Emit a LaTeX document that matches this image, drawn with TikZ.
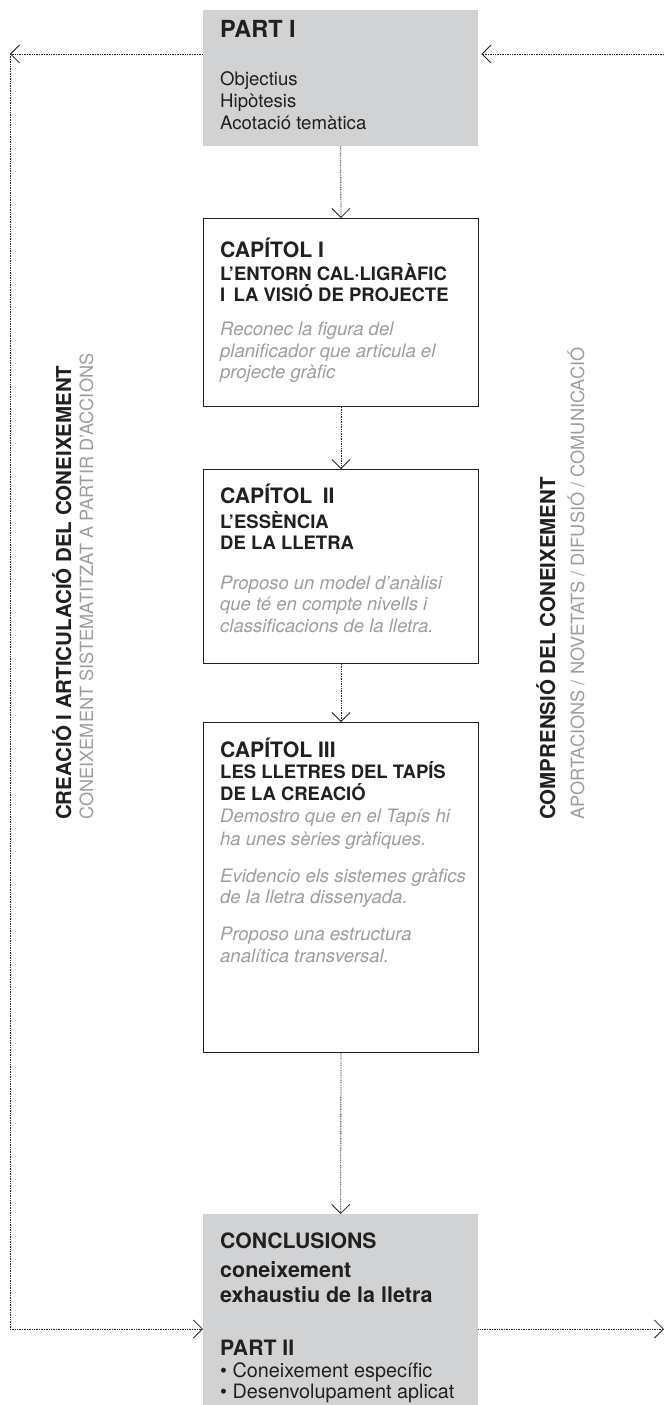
\documentclass[tikz,border=0pt]{standalone}
\usepackage{fontspec}
\setmainfont{TeX Gyre Heros}
\usetikzlibrary{arrows.meta}
\definecolor{boxgray}{HTML}{D1D2D4}
\definecolor{ink}{HTML}{231F20}
\definecolor{softgray}{HTML}{9D9D9D}
\tikzset{
  panel/.style={draw=ink, line width=1pt, inner sep=0pt, anchor=north west, minimum width=275pt},
  shaded/.style={fill=boxgray, draw=none, inner sep=0pt, anchor=north west, minimum width=275pt},
  txt/.style={anchor=base west, inner sep=0pt, text=ink},
  head/.style={txt, font=\bfseries\fontsize{21.2}{24}\selectfont},
  sub/.style={txt, font=\bfseries\fontsize{18.5}{21}\selectfont},
  note/.style={txt, text=softgray, font=\itshape\fontsize{18.5}{22}\selectfont},
  plain/.style={txt, font=\fontsize{18.6}{21}\selectfont},
  sidebold/.style={anchor=base west, inner sep=0pt, rotate=90, text=ink, font=\bfseries\fontsize{20.5}{23}\selectfont},
  sidelight/.style={anchor=base west, inner sep=0pt, rotate=90, text=softgray, font=\fontsize{18.2}{21}\selectfont},
  link/.style={draw=ink, line width=0.85pt, dash pattern=on 0.85pt off 0.85pt},
  tip/.style={-{Straight Barb[length=9pt,width=18pt,line width=0.8pt]}},
}
\begin{document}
\begin{tikzpicture}[x=1pt,y=-1pt]
\useasboundingbox (0,0) rectangle (664,1405);

% boxes
\node[shaded, minimum height=136pt] (part1) at (203,10) {};
\node[panel, minimum height=188pt] (cap1) at (203,218) {};
\node[panel, minimum height=194pt] (cap2) at (203,469) {};
\node[panel, minimum height=330pt] (cap3) at (203,722) {};
\node[shaded, minimum height=191pt] (concl) at (203,1214) {};

% PART I
\node[txt, font=\bfseries\fontsize{23.5}{27}\selectfont] (p1t) at (220,38) {PART I};
\node[plain] (p1a) at (220,85) {Objectius};
\node[plain] (p1b) at (220,107) {Hipòtesis};
\node[plain] (p1c) at (220,129) {Acotació temàtica};

% Capítol I
\node[head] (c1t) at (220,257) {CAPÍTOL I};
\node[sub] (c1a) at (220,280) {L’ENTORN CAL·LIGRÀFIC};
\node[sub] (c1b) at (220,301) {I\hspace{0.45em}LA VISIÓ DE PROJECTE};
\node[note] (c1c) at (220,335) {Reconec la figura del};
\node[note] (c1d) at (220,357) {planificador que articula el};
\node[note] (c1e) at (220,378) {projecte gràfic};

% Capítol II
\node[head] (c2t) at (220,503) {CAPÍTOL\hspace{0.5em}II};
\node[sub] (c2a) at (220,528) {L’ESSÈNCIA};
\node[sub] (c2b) at (220,549) {DE LA LLETRA};
\node[note] (c2c) at (220,589) {Proposo un model d’anàlisi};
\node[note] (c2d) at (220,610) {que té en compte nivells i};
\node[note] (c2e) at (220,632) {classificacions de la lletra.};

% Capítol III
\node[head] (c3t) at (220,757) {CAPÍTOL III};
\node[sub] (c3a) at (220,778) {LES LLETRES DEL TAPÍS};
\node[sub] (c3b) at (220,800) {DE LA CREACIÓ};
\node[note] (c3c) at (220,822) {Demostro que en el Tapís hi};
\node[note] (c3d) at (220,845) {ha unes sèries gràfiques.};
\node[note] (c3e) at (220,882) {Evidencio els sistemes gràfics};
\node[note] (c3f) at (220,903) {de la lletra dissenyada.};
\node[note] (c3g) at (220,940) {Proposo una estructura};
\node[note] (c3h) at (220,962) {analítica transversal.};

% Conclusions / Part II
\node[head] (k1) at (220,1248) {CONCLUSIONS};
\node[txt, font=\bfseries\fontsize{21.5}{24}\selectfont] (k2) at (220,1277) {coneixement};
\node[txt, font=\bfseries\fontsize{21.5}{24}\selectfont] (k3) at (220,1302) {exhaustiu de la lletra};
\node[head] (k4) at (220,1355) {PART II};
\node[txt, font=\fontsize{19.8}{22}\selectfont] (k5) at (220,1377) {• Coneixement específic};
\node[txt, font=\fontsize{19.8}{22}\selectfont] (k6) at (220,1398) {• Desenvolupament aplicat};

% side captions
\node[sidebold] (lefta) at (71,820) {CREACIÓ I ARTICULACIÓ DEL CONEIXEMENT};
\node[sidelight] (leftb) at (93,820) {CONEIXEMENT SISTEMATITZAT A PARTIR D’ACCIONS};
\node[sidebold] (righta) at (555,820) {COMPRENSIÓ DEL CONEIXEMENT};
\node[sidelight] (rightb) at (584,820) {APORTACIONS / NOVETATS / DIFUSIÓ / COMUNICACIÓ};

% loop ends
\coordinate (tl) at (10,54);
\coordinate (bl) at (10,1329);
\coordinate (tr) at (664,54);
\coordinate (br) at (664,1329);

% main chain
\draw[link,tip] (part1.south) -- (cap1.north);
\draw[link,tip] (cap1.south) -- (cap2.north);
\draw[link,tip] (cap2.south) -- (cap3.north);
\draw[link,tip] (cap3.south) -- (concl.north);

% feedback loop
\draw[link,tip] (part1.west |- tl) -- (tl);
\draw[link] (tl) -- (bl);
\draw[link,tip] (bl) -- (concl.west |- bl);
\draw[link,tip] (tr) -- ([xshift=3pt]part1.east |- tr);
\draw[link,tip] (concl.east |- br) -- (br);
\end{tikzpicture}
\end{document}
